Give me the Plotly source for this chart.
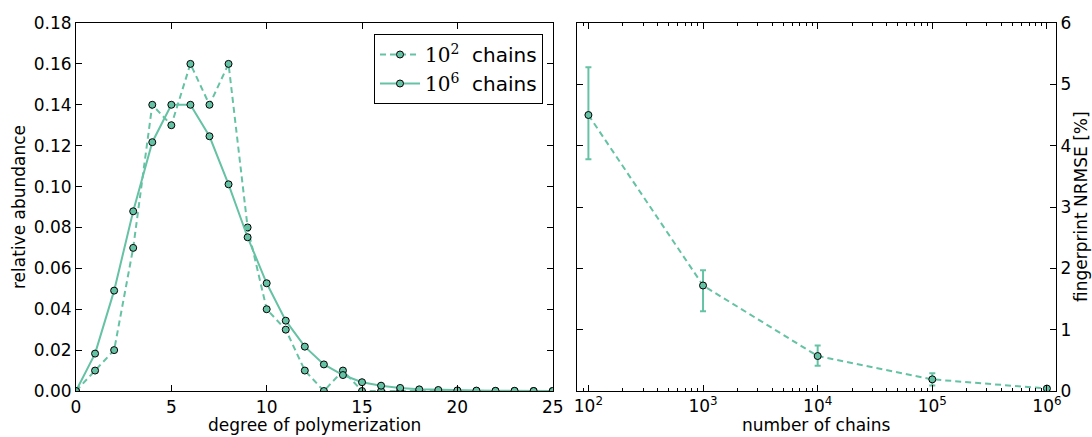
import plotly.graph_objects as go
import numpy as np

# ---- data ----
dp = list(range(0, 26))
abund_1e2 = [0.0, 0.01, 0.02, 0.07, 0.14, 0.13, 0.16, 0.14, 0.16, 0.08, 0.04, 0.03, 0.01,
             0.0, 0.01, 0.0, 0.0, 0.0, 0.0, 0.0, 0.0, 0.0, 0.0, 0.0, 0.0, 0.0]
abund_1e6 = [0.0, 0.0183, 0.0491, 0.0879, 0.1217, 0.140, 0.140, 0.1246, 0.1011, 0.0752, 0.0527,
             0.0344, 0.0217, 0.0130, 0.0078, 0.0043, 0.0026, 0.0015, 0.0008, 0.0005, 0.0003,
             0.0002, 0.0001, 0.0001, 0.0, 0.0]

n_chains = [1e2, 1e3, 1e4, 1e5, 1e6]
nrmse = [4.50, 1.72, 0.57, 0.19, 0.04]
nrmse_err_plus = [0.78, 0.25, 0.17, 0.10, 0.0]
nrmse_err_minus = [0.72, 0.42, 0.16, 0.10, 0.0]

left_xticks = [0, 5, 10, 15, 20, 25]
left_yticks = [0.00, 0.02, 0.04, 0.06, 0.08, 0.10, 0.12, 0.14, 0.16, 0.18]
right_xticks = [1e2, 1e3, 1e4, 1e5, 1e6]
right_xticklabels = ["10<sup>2</sup>", "10<sup>3</sup>", "10<sup>4</sup>", "10<sup>5</sup>", "10<sup>6</sup>"]
right_yticks = [0, 1, 2, 3, 4, 5, 6]

COLOR = "#66c2a5"
FONT = "DejaVu Sans"
FS = 17

fig = go.Figure()

marker = dict(size=7, color=COLOR, line=dict(color="black", width=1))

fig.add_trace(go.Scatter(
    x=dp, y=abund_1e2, mode="lines+markers",
    line=dict(color=COLOR, width=2, dash="6px,4px"),
    marker=marker, xaxis="x", yaxis="y",
    name="<span style=\"font-family:'DejaVu Serif'\">10<sup>2</sup></span>&nbsp; chains",
))
fig.add_trace(go.Scatter(
    x=dp, y=abund_1e6, mode="lines+markers",
    line=dict(color=COLOR, width=2),
    marker=marker, xaxis="x", yaxis="y",
    name="<span style=\"font-family:'DejaVu Serif'\">10<sup>6</sup></span>&nbsp; chains",
))
fig.add_trace(go.Scatter(
    x=n_chains, y=nrmse, mode="lines+markers",
    line=dict(color=COLOR, width=2, dash="6px,4px"),
    marker=marker, xaxis="x2", yaxis="y2", showlegend=False,
    error_y=dict(type="data", symmetric=False, array=nrmse_err_plus,
                 arrayminus=nrmse_err_minus, color=COLOR, thickness=2, width=3),
))

W, H = 1092, 437
L, R, T, B = 76, 36, 23, 46
pw = W - L - R
ph = H - T - B
left_end = (552.7 - L) / pw
right_start = (577.3 - L) / pw


def px_x(px):
    return (px - L) / pw


def px_y(py):
    return (H - B - py) / ph


axis_common = dict(showline=True, linecolor="black", linewidth=1, mirror="allticks",
                   ticks="inside", ticklen=6, tickcolor="black", showgrid=False,
                   zeroline=False, automargin=False,
                   tickfont=dict(family=FONT, size=FS, color="black"))

title_font = dict(family=FONT, size=FS, color="black")
annotations = [
    dict(text="degree of polymerization", x=px_x((L + 552.7) / 2), y=px_y(425)),
    dict(text="number of chains", x=px_x((577.3 + W - R) / 2), y=px_y(425)),
    dict(text="relative abundance", x=px_x(19), y=px_y(207), textangle=-90),
    dict(text="fingerprint NRMSE [%]", x=px_x(1081), y=px_y(207), textangle=-90),
]
for a in annotations:
    a.update(xref="paper", yref="paper", xanchor="center", yanchor="middle",
             showarrow=False, font=title_font)

fig.update_layout(
    width=W, height=H,
    margin=dict(l=L, r=R, t=T, b=B, autoexpand=False),
    paper_bgcolor="white", plot_bgcolor="white",
    font=dict(family=FONT, size=FS, color="black"),
    annotations=annotations,
    xaxis=dict(domain=[0, left_end], range=[0, 25], tickvals=left_xticks,
               ticklabelstandoff=1, anchor="y", **axis_common),
    yaxis=dict(domain=[0, 1], range=[0, 0.18], tickvals=left_yticks, tickformat=".2f",
               anchor="x", **axis_common),
    xaxis2=dict(domain=[right_start, 1], type="log",
                range=[np.log10(80), np.log10(1.2e6)],
                tickvals=right_xticks, ticktext=right_xticklabels,
                ticklabelstandoff=0,
                minor=dict(ticks="inside", ticklen=3, tickcolor="black", dtick="D1", showgrid=False),
                anchor="y2", **axis_common),
    yaxis2=dict(domain=[0, 1], range=[0, 6], tickvals=right_yticks, side="right",
                ticklabelstandoff=0, anchor="x2", **axis_common),
    legend=dict(x=px_x(543), y=px_y(34), xanchor="right", yanchor="top",
                bordercolor="black", borderwidth=1, bgcolor="white",
                font=dict(family=FONT, size=20, color="black"),
                tracegroupgap=0, itemwidth=40),
)

fig.write_html("out.html")
